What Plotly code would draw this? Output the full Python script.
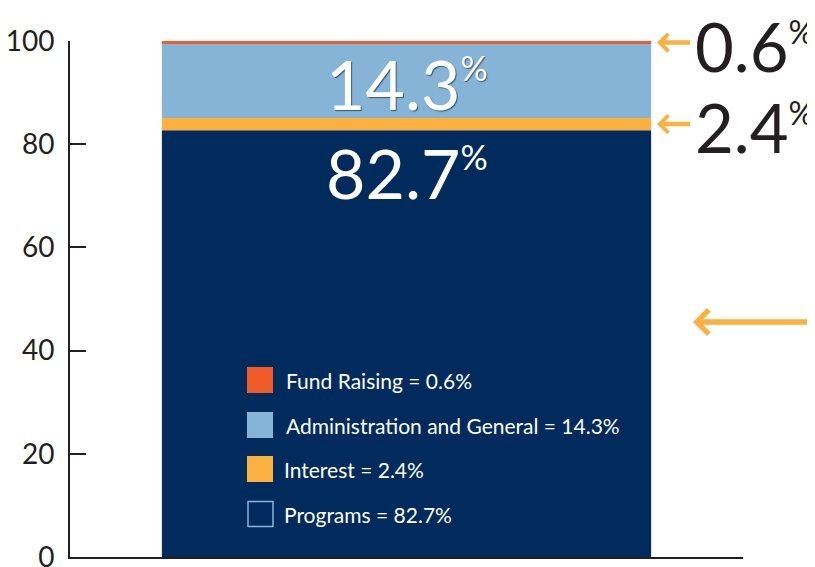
import plotly.graph_objects as go

# ---- data ----
categories = ["Programs", "Interest", "Administration and General", "Fund Raising"]
values = [82.7, 2.4, 14.3, 0.6]
colors = ["#002B5C", "#FBB040", "#86B4D6", "#F15A29"]
y_ticks = [0, 20, 40, 60, 80, 100]

# page body has an 8px default margin; size the figure so it fills the window
OFF = 8
W, H = 815 - OFF, 567 - OFF
ML, MT = 70 - OFF, 41 - OFF
PW, PH = 673, 516
MR = W - ML - PW
MB = H - MT - PH

DARK = "#231F20"
FONT = "Lato"

fig = go.Figure()
base = 0
bases = []
for c, v, col in zip(categories, values, colors):
    bases.append(base)
    fig.add_trace(go.Bar(
        x=[0.5], y=[v], base=[base], width=[0.727], name=c,
        marker=dict(color=col, line=dict(width=0)),
        showlegend=False, hoverinfo="skip"))
    base += v

# convert window pixel positions to axis coordinates
def px_to_x(px):
    return (px - 70) / PW

def px_to_y(py):
    return (557 - py) / PH * 100

ann = []
shapes = []

# in-bar labels
ann.append(dict(x=0.5, y=bases[0] + values[0], xref="x", yref="y",
                text=f"{values[0]}<sup><span style='font-size:34px'>%</span></sup>",
                showarrow=False, yanchor="top", yshift=0,
                font=dict(family=FONT, size=68, color="white")))
ann.append(dict(x=0.5, y=bases[2] + values[2] / 2, xref="x", yref="y",
                text=f"{values[2]}<sup><span style='font-size:34px'>%</span></sup>",
                showarrow=False, yanchor="middle", yshift=-3,
                font=dict(family=FONT, size=68, color="white",
                          shadow="1px 1px 1px rgba(20,50,90,0.7)")))

# right side labels with arrows
for idx in (3, 1):
    yc = bases[idx] + values[idx] / 2
    ann.append(dict(x=px_to_x(657), y=yc, xref="x", yref="y",
                    text=" ", showarrow=True, ax=36, ay=0,
                    arrowhead=4, arrowwidth=4.5, arrowsize=0.75,
                    arrowcolor="#FBB040"))
    ann.append(dict(x=px_to_x(693), y=yc, xref="x", yref="y",
                    text=f"{values[idx]}<sup><span style='font-size:32px'>%</span></sup>",
                    showarrow=False, xanchor="left", yanchor="middle", yshift=-3,
                    font=dict(family=FONT, size=67, color=DARK)))

# big arrow
ann.append(dict(x=px_to_x(693), y=px_to_y(322), xref="x", yref="y",
                text=" ", showarrow=True, ax=124, ay=0,
                arrowhead=4, arrowwidth=5.5, arrowsize=0.85,
                arrowcolor="#FBB040"))

# manual legend (reverse stacking order)
row_y = [380, 425, 469, 514]
for r, idx in enumerate([3, 2, 1, 0]):
    yc = row_y[r]
    if idx == 0:
        shapes.append(dict(type="rect", xref="x", yref="y",
                           x0=px_to_x(248), x1=px_to_x(273),
                           y0=px_to_y(yc - 12.5), y1=px_to_y(yc + 12.5),
                           fillcolor=colors[idx], line=dict(color="#86B4D6", width=1.5)))
    else:
        shapes.append(dict(type="rect", xref="x", yref="y",
                           x0=px_to_x(247), x1=px_to_x(273),
                           y0=px_to_y(yc - 13), y1=px_to_y(yc + 13),
                           fillcolor=colors[idx], line=dict(width=0)))
    tx = 284 if idx in (3, 2) else 282
    ann.append(dict(x=px_to_x(tx), y=px_to_y(yc), xref="x", yref="y",
                    text=f"{categories[idx]} = {values[idx]}%",
                    showarrow=False, xanchor="left", yanchor="middle",
                    font=dict(family=FONT, size=21, color="white")))

fig.update_layout(
    width=W, height=H,
    margin=dict(l=ML, r=MR, t=MT, b=MB, pad=0, autoexpand=False),
    paper_bgcolor="white", plot_bgcolor="white",
    barmode="overlay",
    annotations=ann, shapes=shapes,
    xaxis=dict(range=[0, 1], showgrid=False, zeroline=False, automargin=False,
               showline=True, linecolor=DARK, linewidth=2,
               tickvals=[1], ticktext=[""], ticks="inside", ticklen=13,
               tickwidth=2, tickcolor=DARK, fixedrange=True),
    yaxis=dict(range=[0, 100], showgrid=False, zeroline=False, automargin=False,
               showline=True, linecolor=DARK, linewidth=2,
               tickvals=y_ticks, ticks="inside", ticklen=16, tickwidth=2,
               tickcolor=DARK, ticklabelstandoff=8, ticklabeloverflow="allow",
               tickfont=dict(family=FONT, size=28, color=DARK), fixedrange=True),
)

fig.write_html("out.html")
